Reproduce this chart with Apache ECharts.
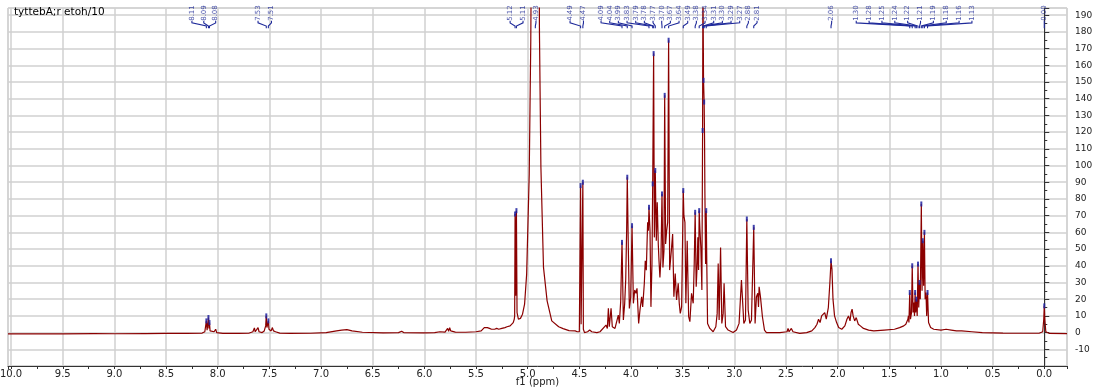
<!DOCTYPE html>
<html><head><meta charset="utf-8">
<script src="https://cdn.jsdelivr.net/npm/echarts@6/dist/echarts.min.js"></script>
<style>html,body{margin:0;padding:0;background:#fff}#c{width:1101px;height:388px}</style>
</head><body><div id="c"></div>
<script>
// ---------- DATA (ppm, intensity) ----------
const titleText = 'tyttebA;r etoh/10';
const axisName = 'f1 (ppm)';

const specAromatic = [
[10.03,-0.8],[9.8,-0.7],[9.5,-0.8],[9.2,-0.6],[9.0,-0.7],[8.7,-0.6],[8.5,-0.5],[8.3,-0.5],[8.15,-0.3],[8.125,0.5],[8.115,1.5],[8.11,7],[8.103,1.5],[8.095,2],[8.09,9],[8.085,2.5],[8.08,6],[8.074,1],[8.06,0],[8.035,0.5],[8.02,2],[8.01,0],[7.95,-0.5],[7.8,-0.5],[7.7,-0.4],[7.66,0.5],[7.645,2.8],[7.637,0.5],[7.62,1],[7.61,3],[7.60,0.5],[7.57,0],[7.55,1],[7.536,4],[7.53,10],[7.524,3],[7.516,3.5],[7.51,7],[7.504,2],[7.49,2.5],[7.483,1],[7.472,3],[7.46,1],[7.44,0.5],[7.4,-0.3],[7.3,-0.5],[7.1,-0.4],[6.95,0],[6.85,1],[6.8,1.5],[6.75,1.8],[6.7,1],[6.6,0.2],[6.4,-0.2],[6.25,0],[6.22,0.8],[6.2,0],[6.0,-0.2],[5.9,0],[5.85,0.5],[5.8,0.3],[5.775,2.5],[5.765,0.8],[5.755,3],[5.745,1],[5.7,0.3],[5.6,0.2],[5.5,0.5],[5.45,1],[5.42,3],[5.41,2],[5.39,3],[5.37,2.5],[5.35,2],[5.32,2],[5.3,2.5],[5.28,2],[5.25,2.5],[5.22,3],[5.2,3.5],[5.17,4],[5.14,6],[5.13,8]
];
const specWater = [
[5.126,10],[5.122,71],[5.116,22],[5.109,73],[5.103,12],[5.09,8],[5.07,8.5],[5.05,11],[5.03,17],[5.01,35],[4.985,95],[4.97,175],[4.955,320],[4.935,700],[4.925,900],[4.915,700],[4.895,300],[4.886,179],[4.872,99],[4.847,39],[4.812,19],[4.767,7],[4.70,3.5],[4.657,2.4],[4.6,1.2],[4.54,1],[4.52,0.5],
[4.50,0.5],[4.492,1],[4.488,88],[4.483,5],[4.47,4],[4.466,90],[4.461,2],[4.45,0],[4.42,0.5],[4.4,1.5],[4.38,0.5],[4.33,0]
];
const specSugar = [
[4.300,0.5],[4.242,4.5],[4.229,2.5],[4.219,14.5],[4.210,3.5],[4.193,14.5],[4.181,3.5],[4.155,2.5],[4.123,10.5],[4.113,5.5],[4.100,18.4],[4.087,54],[4.074,7.5],[4.061,17.5],[4.051,32],[4.042,62],[4.036,93],[4.026,51],[4.016,14.5],[4.003,21],[3.990,64],[3.977,17.5],[3.964,25.5],[3.952,23.5],[3.942,26.5],[3.926,5.5],[3.913,13.5],[3.897,21.4],[3.887,15.4],[3.871,29.5],[3.862,43],[3.852,37.4],[3.839,66],[3.832,61],[3.826,75],[3.816,61],[3.807,15.4],[3.797,41.4],[3.790,89],[3.781,167],[3.774,57],[3.765,97],[3.755,55],[3.746,78],[3.736,53],[3.729,43],[3.720,33],[3.710,45],[3.700,83],[3.691,39],[3.681,49],[3.674,142],[3.665,53],[3.655,61],[3.645,66],[3.636,175],[3.626,37.4],[3.614,38.4],[3.607,51],[3.597,59],[3.585,21.4],[3.572,35.4],[3.559,19.5],[3.543,29.5],[3.533,17.5],[3.523,11.5],[3.510,15.4],[3.504,41.4],[3.494,85],[3.488,70],[3.478,66],[3.469,17.5],[3.456,55],[3.442,9.5],[3.430,6.5],[3.414,23.5],[3.398,17.5],[3.388,41.4],[3.379,72],[3.369,27.4],[3.359,41.4],[3.353,57],[3.346,37.4],[3.340,73],[3.333,62],[3.324,51],[3.314,25.5],[3.307,121],[3.304,215],[3.298,151],[3.292,138],[3.288,115],[3.285,85],[3.278,41],[3.272,73],[3.266,39.4],[3.259,5.5],[3.237,2.5],[3.205,0.5],[3.179,3.5],[3.166,11.5],[3.156,41.4],[3.147,7.5],[3.133,51],[3.121,5.5],[3.108,11.5],[3.099,29.5],[3.085,3.5],[3.060,1.5],[3.012,0],[2.979,1.5],[2.954,5.5],[2.931,31.4],[2.908,5.5],[2.892,7.5],[2.879,68],[2.866,13.5],[2.850,5.5],[2.834,7.5],[2.812,63],[2.799,5.5],[2.786,21.4],[2.773,23.5],[2.766,15.4],[2.760,27.4],[2.747,21.4],[2.728,9.5],[2.708,1.5],[2.689,0],[2.560,0],[2.490,0.5],[2.480,2.5],[2.470,0.5],[2.448,2.5],[2.432,0.5],[2.367,-0.5]
];
const specAliphatic = [
[2.3,0],[2.25,1],[2.22,3],[2.2,5],[2.185,8],[2.17,6],[2.155,10],[2.14,9],[2.125,12],[2.11,8],[2.09,15],[2.075,30],[2.064,43],[2.055,38],[2.045,20],[2.03,10],[2.01,6],[1.99,3],[1.96,2],[1.93,4],[1.91,8],[1.895,10],[1.88,7],[1.87,12],[1.86,14],[1.85,10],[1.835,7],[1.82,9],[1.80,5],[1.78,4],[1.75,2.5],[1.7,1.5],[1.65,1],[1.55,1.5],[1.45,2],[1.4,3],[1.36,4],
[1.34,5],[1.32,8],[1.315,10],[1.31,6],[1.302,24],[1.295,8],[1.285,12],[1.278,40],[1.27,12],[1.262,18],[1.256,10],[1.25,24],[1.245,12],[1.238,20],[1.23,10],[1.222,41],[1.215,15],[1.207,30],[1.20,20],[1.19,77],[1.183,25],[1.176,55],[1.168,28],[1.16,60],[1.153,20],[1.145,24],[1.138,10],[1.13,24],[1.12,6],[1.10,3],[1.07,2],[1.0,1.5],[0.95,2],[0.9,1.5],[0.85,1],[0.8,1],[0.7,0.5],[0.6,0],[0.4,-0.3],[0.2,-0.4],[0.05,-0.4],[0.015,0.5],[0.005,8],[0.0,16],[-0.005,8],[-0.015,0.5],[-0.05,-0.5],[-0.22,-0.6]
];

// picked peaks (ppm) per annotation group
const peakGroups = [
  [8.11, 8.09, 8.08],
  [7.53, 7.51],
  [5.122, 5.109, 4.926],
  [4.488, 4.466],
  [4.087, 4.036, 3.990, 3.826, 3.790, 3.781, 3.765, 3.700, 3.674, 3.636, 3.494, 3.379, 3.340, 3.307, 3.298, 3.292, 3.272, 2.879, 2.812],
  [2.064],
  [1.302, 1.278, 1.25, 1.238, 1.222, 1.207, 1.19, 1.176, 1.16, 1.13],
  [0.0]
];
// ---------- LAYOUT (where the label text of each group sits, ppm span) ----------
const labelSpans = [[8.25,8.02],[7.61,7.48],[5.17,4.92],[4.59,4.46],[4.29,2.78],[2.058,2.058],[1.82,0.70],[0.0,0.0]];

const spectrum = specAromatic.concat(specWater, specSugar, specAliphatic);

function intensityAt(ppm){
  let best = spectrum[0], d = 1e9;
  for (const p of spectrum){ const dd = Math.abs(p[0]-ppm); if (dd < d){ d = dd; best = p; } }
  return best[1];
}

const LABEL_Y = 191.3, B1 = 186.6, B2 = 185.4, B3 = 183.5, B4 = 182.2;
const labelData = [], bracketData = [], markerData = [];
peakGroups.forEach((g, gi) => {
  const [s, e] = labelSpans[gi];
  g.forEach((p, i) => {
    const lx = g.length === 1 ? s : s + (e - s) * i / (g.length - 1);
    labelData.push([lx, LABEL_Y, p.toFixed(2)]);
    bracketData.push({coords: [[lx, B1], [lx, B2], [p, B3], [p, B4]]});
    markerData.push([p, intensityAt(p)]);
  });
});

const FONT = 'DejaVu Sans';
const chart = echarts.init(document.getElementById('c'), null, {renderer: 'canvas'});
chart.setOption({
  animation: false,
  backgroundColor: '#ffffff',
  title: {text: titleText, left: 9, top: 2, textStyle: {fontSize: 10.5, fontWeight: 'normal', color: '#000', fontFamily: FONT}},
  grid: {left: 8, right: 34, top: 8, bottom: 22, containLabel: false, outerBoundsMode: 'none',
         show: true, borderColor: '#c4c4c4', borderWidth: 1},
  xAxis: {
    type: 'value', inverse: true, min: -0.22, max: 10.03, splitNumber: 20,
    axisLine: {show: true, onZero: false, lineStyle: {color: '#333', width: 1}},
    axisTick: {show: true, length: 3, lineStyle: {color: '#333'}},
    minorTick: {show: true, splitNumber: 2, length: 3, lineStyle: {color: '#333'}},
    axisLabel: {fontSize: 10, color: '#222', fontFamily: FONT, margin: 3, hideOverlap: false,
      formatter: v => (Math.abs(v*2 - Math.round(v*2)) < 1e-6 && v > -0.01 && v < 10.01) ? v.toFixed(1) : ''},
    splitLine: {show: true, lineStyle: {color: '#d0d0d0', width: 1.5}},
    name: axisName, nameLocation: 'middle', nameGap: 11, nameMoveOverlap: false,
    nameTextStyle: {fontSize: 10, color: '#222', fontFamily: FONT, verticalAlign: 'top'}
  },
  yAxis: {
    type: 'value', position: 'right', offset: 5, min: -20, max: 194.3, interval: 10,
    axisLine: {show: true, lineStyle: {color: '#333', width: 1}},
    axisTick: {show: true, length: 5, lineStyle: {color: '#333'}},
    minorTick: {show: true, splitNumber: 2, length: 3, lineStyle: {color: '#333'}},
    axisLabel: {fontSize: 9, color: '#222', fontFamily: FONT, margin: 3,
      formatter: v => (Math.round(v) === v && v % 10 === 0 && v >= -10 && v <= 190) ? String(v) : ''},
    splitLine: {show: true, lineStyle: {color: '#d0d0d0', width: 1.5}}
  },
  series: [
    {type: 'line', data: spectrum, showSymbol: false, symbol: 'none', clip: true, z: 3,
     lineStyle: {color: '#8b0000', width: 1.2}},
    {type: 'scatter', data: markerData, symbol: 'rect', symbolSize: [2, 5], clip: true, z: 4,
     itemStyle: {color: '#1e22a0', opacity: 0.85}},
    {type: 'lines', coordinateSystem: 'cartesian2d', polyline: true, data: bracketData, z: 5,
     lineStyle: {color: '#1f2a9a', width: 1.1, opacity: 1}},
    {type: 'scatter', data: labelData, symbolSize: 0, clip: false, z: 6,
     label: {show: true, position: 'inside', rotate: 90, fontSize: 7, color: '#1f2a96', fontFamily: FONT,
       formatter: p => p.data[2]}}
  ]
});
</script></body></html>
